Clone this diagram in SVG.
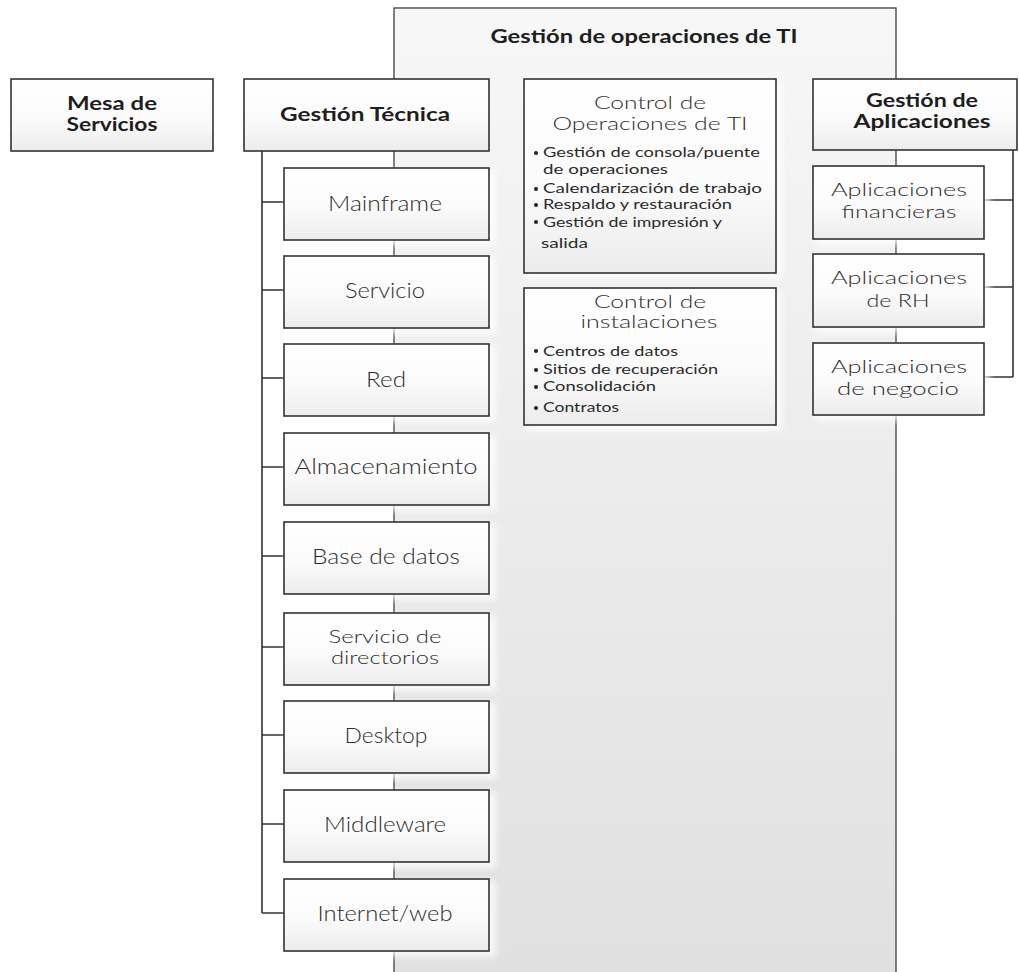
<svg xmlns="http://www.w3.org/2000/svg" width="1019" height="972" viewBox="0 0 1019 972">
  <defs>
    <linearGradient id="panelFill" x1="0" y1="0" x2="0" y2="1">
      <stop offset="0" stop-color="#f7f7f7"/>
      <stop offset="1" stop-color="#e0e0e0"/>
    </linearGradient>
    <linearGradient id="boxFill" x1="0" y1="0" x2="0" y2="1">
      <stop offset="0" stop-color="#ffffff"/>
      <stop offset="0.55" stop-color="#fbfbfb"/>
      <stop offset="1" stop-color="#ececec"/>
    </linearGradient>
    <filter id="halo" x="-10%" y="-20%" width="120%" height="140%">
      <feGaussianBlur stdDeviation="3"/>
    </filter>
  </defs>
  <style>
    .box { fill: url(#boxFill); stroke: #333333; stroke-width: 1.6; }
    .glow { fill: #ffffff; opacity: 0.75; filter: url(#halo); }
    .line { fill: none; stroke: #333333; stroke-width: 1.6; }
    .head { font-family: "Lato", "Liberation Sans", sans-serif; font-weight: 700; font-size: 18px; fill: #1e1e1e; text-anchor: middle; }
    .label { font-family: "Lato", "Liberation Sans", sans-serif; font-weight: 300; font-size: 21px; fill: #2e2e2e; text-anchor: middle; }
    .label2 { font-family: "Lato", "Liberation Sans", sans-serif; font-weight: 300; font-size: 18px; fill: #2e2e2e; text-anchor: middle; }
    .item { font-family: "Lato", "Liberation Sans", sans-serif; font-weight: 400; font-size: 13px; fill: #2a2a2a; }
    .dot { fill: #222222; }
  </style>

  <rect width="1019" height="972" fill="#ffffff"/>

  <!-- Operations panel -->
  <g id="panel-operaciones">
    <rect x="394" y="8" width="502" height="975" fill="url(#panelFill)" stroke="#4a4a4a" stroke-width="1.4"/>
    <text class="head" x="644" y="43" textLength="307" lengthAdjust="spacingAndGlyphs">Gestión de operaciones de TI</text>
  </g>

  <!-- Connectors -->
  <g id="connectors">
    <!-- Technical management spine -->
    <path class="line" d="M262 151 V913 M262 202 H284 M262 290 H284 M262 378 H284 M262 467 H284 M262 556 H284 M262 647 H284 M262 735 H284 M262 824 H284 M262 913 H284"/>
    <!-- Application management spine -->
    <path class="line" d="M1013 150 V377 M984 200 H1013 M984 287 H1013 M984 377 H1013"/>
  </g>

  <!-- Service desk -->
  <g id="mesa-servicios">
    <rect class="box" x="11" y="79" width="202" height="72"/>
    <text class="head" x="112" y="110" textLength="90" lengthAdjust="spacingAndGlyphs">Mesa de</text>
    <text class="head" x="112" y="131" textLength="91" lengthAdjust="spacingAndGlyphs">Servicios</text>
  </g>

  <!-- Technical management -->
  <g id="gestion-tecnica">
    <rect class="box" x="244" y="79" width="245" height="72"/>
    <text class="head" x="365" y="121" textLength="170" lengthAdjust="spacingAndGlyphs">Gestión Técnica</text>
  </g>

  <g id="mainframe">
    <rect class="glow" x="286" y="170" width="210" height="76"/>
    <rect class="box" x="284" y="168" width="205" height="72"/>
    <text class="label" x="385" y="211" textLength="114" lengthAdjust="spacingAndGlyphs">Mainframe</text>
  </g>
  <g id="servicio">
    <rect class="glow" x="286" y="258" width="210" height="76"/>
    <rect class="box" x="284" y="256" width="205" height="72"/>
    <text class="label" x="385" y="298" textLength="80" lengthAdjust="spacingAndGlyphs">Servicio</text>
  </g>
  <g id="red">
    <rect class="glow" x="286" y="346" width="210" height="76"/>
    <rect class="box" x="284" y="344" width="205" height="72"/>
    <text class="label" x="386" y="387" textLength="40" lengthAdjust="spacingAndGlyphs">Red</text>
  </g>
  <g id="almacenamiento">
    <rect class="glow" x="286" y="435" width="210" height="76"/>
    <rect class="box" x="284" y="433" width="205" height="72"/>
    <text class="label" x="386" y="474" textLength="183" lengthAdjust="spacingAndGlyphs">Almacenamiento</text>
  </g>
  <g id="base-datos">
    <rect class="glow" x="286" y="524" width="210" height="76"/>
    <rect class="box" x="284" y="522" width="205" height="72"/>
    <text class="label" x="386" y="564" textLength="148" lengthAdjust="spacingAndGlyphs">Base de datos</text>
  </g>
  <g id="servicio-directorios">
    <rect class="glow" x="286" y="615" width="210" height="76"/>
    <rect class="box" x="284" y="613" width="205" height="72"/>
    <text class="label2" x="385" y="643" textLength="113" lengthAdjust="spacingAndGlyphs">Servicio de</text>
    <text class="label2" x="385" y="664" textLength="108" lengthAdjust="spacingAndGlyphs">directorios</text>
  </g>
  <g id="desktop">
    <rect class="glow" x="286" y="703" width="210" height="76"/>
    <rect class="box" x="284" y="701" width="205" height="72"/>
    <text class="label" x="386" y="743" textLength="83" lengthAdjust="spacingAndGlyphs">Desktop</text>
  </g>
  <g id="middleware">
    <rect class="glow" x="286" y="792" width="210" height="76"/>
    <rect class="box" x="284" y="790" width="205" height="72"/>
    <text class="label" x="385" y="832" textLength="122" lengthAdjust="spacingAndGlyphs">Middleware</text>
  </g>
  <g id="internet-web">
    <rect class="glow" x="286" y="881" width="210" height="76"/>
    <rect class="box" x="284" y="879" width="205" height="72"/>
    <text class="label" x="385" y="921" textLength="135" lengthAdjust="spacingAndGlyphs">Internet/web</text>
  </g>

  <!-- IT operations control -->
  <g id="control-operaciones">
    <rect class="glow" x="526" y="81" width="256" height="198"/>
    <rect class="box" x="524" y="79" width="252" height="194"/>
    <text class="label2" x="650" y="109" textLength="112" lengthAdjust="spacingAndGlyphs">Control de</text>
    <text class="label2" x="650" y="130" textLength="195" lengthAdjust="spacingAndGlyphs">Operaciones de TI</text>
    <circle class="dot" cx="536" cy="153" r="2"/>
    <text class="item" x="543" y="157" textLength="217" lengthAdjust="spacingAndGlyphs">Gestión de consola/puente</text>
    <text class="item" x="543" y="174" textLength="125" lengthAdjust="spacingAndGlyphs">de operaciones</text>
    <circle class="dot" cx="536" cy="189" r="2"/>
    <text class="item" x="543" y="193" textLength="219" lengthAdjust="spacingAndGlyphs">Calendarización de trabajo</text>
    <circle class="dot" cx="536" cy="205" r="2"/>
    <text class="item" x="543" y="209" textLength="189" lengthAdjust="spacingAndGlyphs">Respaldo y restauración</text>
    <circle class="dot" cx="536" cy="222" r="2"/>
    <text class="item" x="543" y="227" textLength="179" lengthAdjust="spacingAndGlyphs">Gestión de impresión y</text>
    <text class="item" x="541" y="248" textLength="47" lengthAdjust="spacingAndGlyphs">salida</text>
  </g>

  <!-- Facilities control -->
  <g id="control-instalaciones">
    <rect class="glow" x="526" y="290" width="256" height="141"/>
    <rect class="box" x="524" y="288" width="252" height="137"/>
    <text class="label2" x="650" y="308" textLength="112" lengthAdjust="spacingAndGlyphs">Control de</text>
    <text class="label2" x="649" y="328" textLength="137" lengthAdjust="spacingAndGlyphs">instalaciones</text>
    <circle class="dot" cx="536" cy="351" r="2"/>
    <text class="item" x="543" y="356" textLength="135" lengthAdjust="spacingAndGlyphs">Centros de datos</text>
    <circle class="dot" cx="536" cy="370" r="2"/>
    <text class="item" x="543" y="374" textLength="175" lengthAdjust="spacingAndGlyphs">Sitios de recuperación</text>
    <circle class="dot" cx="536" cy="387" r="2"/>
    <text class="item" x="543" y="391" textLength="113" lengthAdjust="spacingAndGlyphs">Consolidación</text>
    <circle class="dot" cx="536" cy="408" r="2"/>
    <text class="item" x="543" y="412" textLength="76" lengthAdjust="spacingAndGlyphs">Contratos</text>
  </g>

  <!-- Application management -->
  <g id="gestion-aplicaciones">
    <rect class="box" x="813" y="79" width="204" height="71"/>
    <text class="head" x="922" y="107" textLength="112" lengthAdjust="spacingAndGlyphs">Gestión de</text>
    <text class="head" x="922" y="128" textLength="137" lengthAdjust="spacingAndGlyphs">Aplicaciones</text>
  </g>
  <g id="aplicaciones-financieras">
    <rect class="glow" x="815" y="168" width="175" height="77"/>
    <rect class="box" x="813" y="166" width="171" height="73"/>
    <text class="label2" x="899" y="196" textLength="136" lengthAdjust="spacingAndGlyphs">Aplicaciones</text>
    <text class="label2" x="899" y="218" textLength="115" lengthAdjust="spacingAndGlyphs">financieras</text>
  </g>
  <g id="aplicaciones-rh">
    <rect class="glow" x="815" y="256" width="175" height="77"/>
    <rect class="box" x="813" y="254" width="171" height="73"/>
    <text class="label2" x="899" y="284" textLength="136" lengthAdjust="spacingAndGlyphs">Aplicaciones</text>
    <text class="label2" x="898" y="307" textLength="63" lengthAdjust="spacingAndGlyphs">de RH</text>
  </g>
  <g id="aplicaciones-negocio">
    <rect class="glow" x="815" y="345" width="175" height="76"/>
    <rect class="box" x="813" y="343" width="171" height="72"/>
    <text class="label2" x="899" y="373" textLength="136" lengthAdjust="spacingAndGlyphs">Aplicaciones</text>
    <text class="label2" x="898" y="395" textLength="122" lengthAdjust="spacingAndGlyphs">de negocio</text>
  </g>
</svg>
